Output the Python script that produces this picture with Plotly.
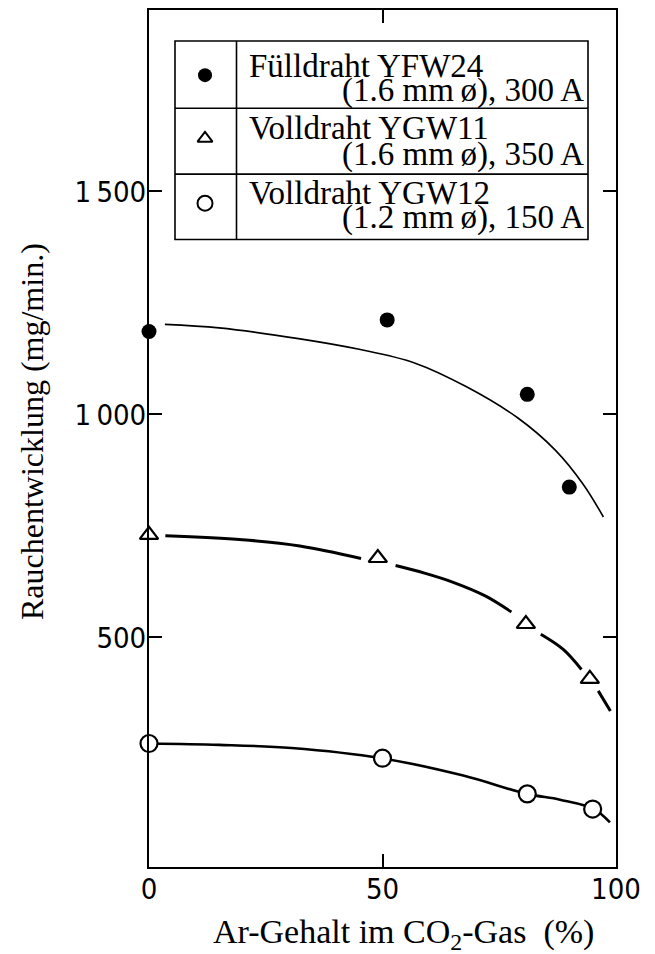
import plotly.graph_objects as go

# Fume emission vs. Ar content of the CO2 shielding gas
ar_fcw = [0, 51, 81, 90]
fume_fcw = [1186, 1212, 1045, 837]

ar_ygw11 = [0, 49, 80.7, 94.4]
fume_ygw11 = [730, 678, 530, 407]

ar_ygw12 = [0, 50, 81, 95]
fume_ygw12 = [262, 229, 149, 115]

# hand-drawn trend curves (None splits the dashed curve around its markers)
fit_fcw_x = [3.4, 15, 32, 45, 57, 68, 79, 87, 93, 97.3]
fit_fcw_y = [1202, 1194, 1170, 1146, 1115, 1062, 992, 920, 843, 770]

fit_ygw11_x = [3.5, 20, 32.3, 45.4, None, 52.8, 59, 65, 72, 77.6, None, 83.9, 88.7, 92.6, None, 96.2, 98.8]
fit_ygw11_y = [728, 719, 705, 677, None, 661, 644, 624, 593, 557, None, 507, 473, 428, None, 380, 335]

fit_ygw12_x = [0, 15, 30.5, 49.8, 67.3, 80.9, 88, 95.3, 98.7]
fit_ygw12_y = [262, 259, 252, 229, 190, 149, 136, 115, 85]

series_names = ["Fülldraht YFW24", "Volldraht YGW11", "Volldraht YGW12"]
series_specs = ["(1.6 mm\u2009ø), 300 A", "(1.6 mm\u2009ø), 350 A", "(1.2 mm\u2009ø), 150 A"]

y_ticks = [500, 1000, 1500]
y_ticktext = ["500", "1\u2009000", "1\u2009500"]
x_ticks = [0, 50, 100]
x_ticktext = ["0", "50", "100"]

W, H = 655, 954
L, R, T, B = 149, 39, 8, 87
PW, PH = W - L - R, H - T - B

SERIF = "Liberation Serif, Times New Roman, serif"
NARROW = "Liberation Sans Narrow, DejaVu Sans Condensed, Arial Narrow, sans-serif"


def px(x):
    return (x - L) / PW


def py(y):
    return (H - B - y) / PH


fig = go.Figure()

fig.add_trace(go.Scatter(x=fit_fcw_x, y=fit_fcw_y, mode="lines",
                         line=dict(color="black", width=1.6, shape="spline"),
                         hoverinfo="skip"))
fig.add_trace(go.Scatter(x=fit_ygw11_x, y=fit_ygw11_y, mode="lines", connectgaps=False,
                         line=dict(color="black", width=3, shape="spline"),
                         hoverinfo="skip"))
fig.add_trace(go.Scatter(x=fit_ygw12_x, y=fit_ygw12_y, mode="lines",
                         line=dict(color="black", width=2.6, shape="spline"),
                         hoverinfo="skip"))

marker_styles = [
    dict(symbol="circle", size=15, color="black", line=dict(color="black", width=0)),
    dict(symbol="triangle-up", size=16, color="white", line=dict(color="black", width=2.2)),
    dict(symbol="circle", size=17, color="white", line=dict(color="black", width=2.2)),
]
key_styles = [
    dict(symbol="circle", size=14, color="black", line=dict(color="black", width=0)),
    dict(symbol="triangle-up", size=13, color="white", line=dict(color="black", width=2)),
    dict(symbol="circle", size=15, color="white", line=dict(color="black", width=2)),
]

for xs, ys, name, mk in zip([ar_fcw, ar_ygw11, ar_ygw12],
                            [fume_fcw, fume_ygw11, fume_ygw12],
                            series_names, marker_styles):
    fig.add_trace(go.Scatter(x=xs, y=ys, mode="markers", name=name,
                             cliponaxis=False, marker=mk))

# key table: outer box, row rules and symbol column
box_l, box_r, box_t, box_b = 175, 588, 39, 238
rows = [box_t, 106.5, 172.5, box_b]
col = 236.5
fig.add_shape(type="rect", xref="paper", yref="paper",
              x0=px(box_l), x1=px(box_r), y0=py(box_b), y1=py(box_t),
              line=dict(color="black", width=1.6), fillcolor="rgba(0,0,0,0)", layer="above")
for yr in rows[1:-1]:
    fig.add_shape(type="line", xref="paper", yref="paper",
                  x0=px(box_l), x1=px(box_r), y0=py(yr), y1=py(yr),
                  line=dict(color="black", width=1.6), layer="above")
fig.add_shape(type="line", xref="paper", yref="paper",
              x0=px(col), x1=px(col), y0=py(box_b), y1=py(box_t),
              line=dict(color="black", width=1.6), layer="above")

# key symbols on an overlay axis spanning the plot in paper units
key_y = [73.3, 136.7, 201.7]
for ky, mk in zip(key_y, key_styles):
    fig.add_trace(go.Scatter(x=[px(205)], y=[py(ky)], xaxis="x2", yaxis="y2",
                             mode="markers", cliponaxis=False, hoverinfo="skip",
                             marker=mk))

line1_y = [64, 126, 191]
line2_y = [89, 153, 216]
for name, spec, y1, y2 in zip(series_names, series_specs, line1_y, line2_y):
    fig.add_annotation(text=name, xref="paper", yref="paper", x=px(247), y=py(y1),
                       xanchor="left", yanchor="middle", showarrow=False,
                       font=dict(family=SERIF, size=33, color="black"))
    fig.add_annotation(text=spec, xref="paper", yref="paper", x=px(586), y=py(y2),
                       xanchor="right", yanchor="middle", showarrow=False,
                       font=dict(family=SERIF, size=33, color="black"))

# axis titles
fig.add_annotation(text="Ar-Gehalt im CO<sub>2</sub>-Gas\u2002(%)", xref="paper", yref="paper",
                   x=px(403), y=py(934), xanchor="center", yanchor="middle", showarrow=False,
                   font=dict(family=SERIF, size=34, color="black"))
fig.add_annotation(text="Rauchentwicklung (mg/min.)", xref="paper", yref="paper",
                   x=px(32), y=py(431), xanchor="center", yanchor="middle", showarrow=False,
                   textangle=-90, font=dict(family=SERIF, size=32, color="black"))

axis_common = dict(showline=True, linecolor="black", linewidth=2, mirror="ticks",
                   ticks="inside", ticklen=13, tickwidth=1.6, tickcolor="black",
                   showgrid=False, zeroline=False, ticklabelstandoff=-5,
                   tickfont=dict(family=NARROW, size=29, color="black"))

fig.update_layout(
    width=W, height=H,
    margin=dict(l=L, r=R, t=T, b=B),
    paper_bgcolor="white", plot_bgcolor="white",
    showlegend=False,
    xaxis=dict(range=[0, 100], tickvals=x_ticks, ticktext=x_ticktext, **axis_common),
    yaxis=dict(range=[-15, 1907], tickvals=y_ticks, ticktext=y_ticktext, **axis_common),
    xaxis2=dict(range=[0, 1], overlaying="x", visible=False, fixedrange=True),
    yaxis2=dict(range=[0, 1], overlaying="y", visible=False, fixedrange=True),
)

fig.write_html("out.html")
